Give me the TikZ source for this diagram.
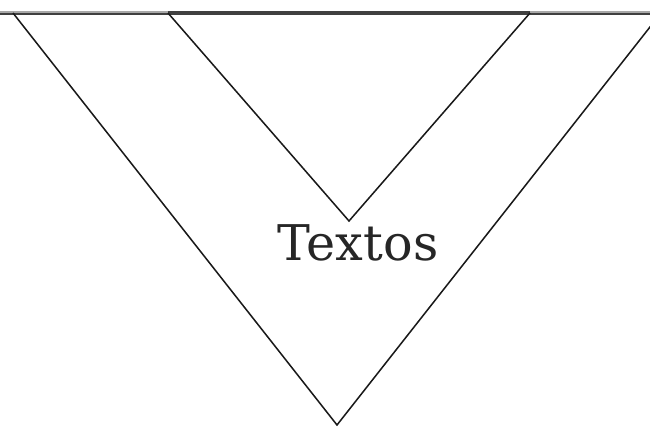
\documentclass[tikz,border=0pt]{standalone}
\usepackage{tikz}
\usepackage{fontspec}
\setmainfont{DejaVu Serif}
\usetikzlibrary{calc,positioning}
\definecolor{cRule}{HTML}{A8A8A8}
\definecolor{cDark}{HTML}{404040}
\tikzset{
  side/.style={line width=1.3pt,black!90,line join=miter},
  rulegray/.style={line width=2.6pt,cRule},
  ruledark/.style={line width=1.4pt,cDark},
  lbl/.style={font=\fontsize{42}{46}\selectfont,inner sep=0pt,text=black!85},
}
\begin{document}
\begin{tikzpicture}[x=0.03cm,y=-0.03cm]
  \useasboundingbox (0,0) rectangle (650,427);
  \clip (0,0) rectangle (650,427);
  % ---------------- corners of the two triangles
  \coordinate (oL) at (13,13);
  \coordinate (oB) at (337,425);
  \coordinate (oR) at (661,13);
  \coordinate (iL) at (168,13);
  \coordinate (iB) at (349,221);
  \coordinate (iR) at (530,13);
  % ---------------- top rule
  \draw[rulegray] (0,13) -- (650,13);
  \draw[ruledark] (0,14) -- (650,14);
  \draw[line width=2.6pt,cDark] (iL) -- (iR);
  % ---------------- triangles
  \draw[side] (oL) -- (oB) -- (oR);
  \draw[side] (iL) -- (iB) -- (iR);
  % ---------------- label
  \node[lbl] (txt) at (358,243) {Textos};
\end{tikzpicture}
\end{document}
